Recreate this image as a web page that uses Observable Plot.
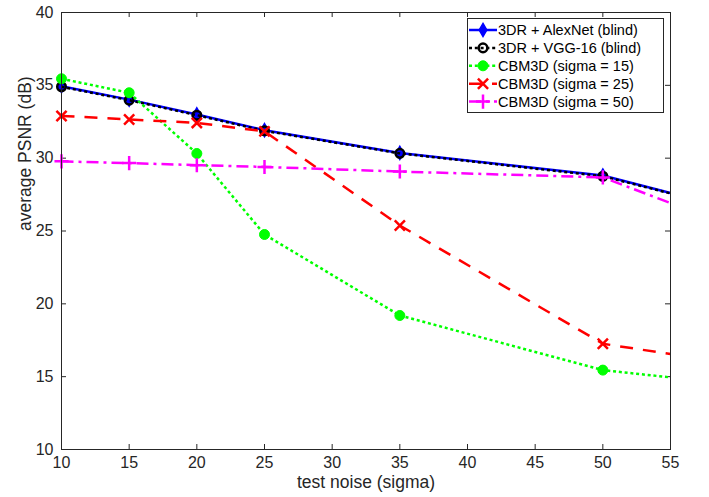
<!DOCTYPE html>
<html>
<head>
<meta charset="utf-8">
<script src="https://cdn.jsdelivr.net/npm/d3@7"></script>
<script src="https://cdn.jsdelivr.net/npm/@observablehq/plot@0.6"></script>
<style>
  body { margin: 0; background: #fff; }
  #chart { width: 709px; height: 497px; }
</style>
</head>
<body>
<div id="chart"></div>
<script>
// Test noise levels (sigma) and average PSNR (dB) per method
const sigma = [10, 15, 20, 25, 35, 50, 55];
const alexnetBlind = [34.94, 34.02, 33.00, 31.92, 30.36, 28.81, 27.61];
const vggBlind = [34.90, 33.98, 32.95, 31.88, 30.33, 28.76, 27.58];
const cbm3d15 = [35.45, 34.49, 30.32, 24.76, 19.20, 15.45, 14.95];
const cbm3d25 = [32.90, 32.66, 32.42, 31.84, 25.38, 17.26, 16.55];
const cbm3d50 = [29.78, 29.66, 29.52, 29.40, 29.08, 28.68, 26.92];

const seriesNames = [
  "3DR + AlexNet (blind)",
  "3DR + VGG-16 (blind)",
  "CBM3D (sigma = 15)",
  "CBM3D (sigma = 25)",
  "CBM3D (sigma = 50)"
];
const seriesValues = [alexnetBlind, vggBlind, cbm3d15, cbm3d25, cbm3d50];

const xTicks = [10, 15, 20, 25, 30, 35, 40, 45, 50, 55];
const yTicks = [10, 15, 20, 25, 30, 35, 40];
const xLabel = "test noise (sigma)";
const yLabel = "average PSNR (dB)";

// Drawing styles, one per series (same order as seriesNames)
const styles = [
  {stroke: "#0000ff", dash: null, symbol: "diamond", r: 4, fill: "#0000ff", sw: 1.5},
  {stroke: "#000000", dash: "3,2.8", symbol: "circle", r: 4.3, fill: "none", sw: 2.5},
  {stroke: "#00ff00", dash: "3,2.8", symbol: "circle", r: 5, fill: "#00ff00", sw: 1},
  {stroke: "#ff0000", dash: "13,10", symbol: "times", r: 4.7, fill: "none", sw: 2.5},
  {stroke: "#ff00ff", dash: "12,5,3,5", symbol: "plus", r: 4.6, fill: "none", sw: 2.5}
];

const rows = seriesNames.flatMap((name, k) =>
  sigma.map((s, i) => ({series: name, sigma: s, psnr: seriesValues[k][i]}))
);

const W = 709, H = 497;
const mL = 61, mR = 39, mT = 12, mB = 48;
const plotW = W - mL - mR, plotH = H - mT - mB;
const ink = "#262626";
const font = "'Liberation Sans', Arial, Helvetica, sans-serif";

// Each series: its line, then its markers (markers only at the tested levels;
// the last segment runs on to the right edge of the axes)
const seriesMarks = seriesNames.flatMap((name, k) => {
  const st = styles[k];
  const data = rows.filter(d => d.series === name);
  return [
    Plot.line(data, {
      x: "sigma", y: "psnr", stroke: st.stroke, strokeWidth: 2.5,
      strokeDasharray: st.dash, strokeLinecap: "butt", strokeLinejoin: "miter"
    }),
    Plot.dot(data.filter(d => d.sigma < 55), {
      x: "sigma", y: "psnr", symbol: st.symbol, r: st.r,
      fill: st.fill, stroke: st.stroke, strokeWidth: st.sw
    })
  ];
});

const chart = Plot.plot({
  width: W, height: H,
  marginLeft: mL, marginRight: mR, marginTop: mT, marginBottom: mB,
  style: {fontFamily: font, color: ink, background: "#fff"},
  x: {domain: [10, 55]},
  y: {domain: [10, 40]},
  marks: [
    // inward ticks on all four sides
    Plot.ruleX(xTicks, {x: d => d, insetTop: plotH - 5, stroke: ink}),
    Plot.ruleX(xTicks, {x: d => d, insetBottom: plotH - 5, stroke: ink}),
    Plot.ruleY(yTicks, {y: d => d, insetRight: plotW - 5, stroke: ink}),
    Plot.ruleY(yTicks, {y: d => d, insetLeft: plotW - 5, stroke: ink}),
    Plot.axisX({ticks: xTicks, tickSize: 0, tickPadding: 7, fontSize: 16, label: null, color: ink}),
    Plot.axisY({ticks: yTicks, tickSize: 0, tickPadding: 8, fontSize: 16, label: null, color: ink}),
    ...seriesMarks,
    Plot.frame({stroke: ink, strokeWidth: 1}),
    Plot.text([xLabel], {text: d => d, frameAnchor: "bottom", dy: 38, fontSize: 17.5, fill: ink}),
    Plot.text([yLabel], {text: d => d, frameAnchor: "left", rotate: -90, dx: -36, fontSize: 17.5, fill: ink})
  ]
});

document.getElementById("chart").appendChild(chart);

// Legend box in the upper right corner of the axes
const svg = d3.select(chart);
const lg = svg.append("g")
  .attr("font-family", font).attr("font-size", 14.5).attr("text-anchor", "start");
lg.append("rect")
  .attr("x", 467.5).attr("y", 18.5).attr("width", 196).attr("height", 94)
  .attr("fill", "#fff").attr("stroke", ink).attr("stroke-width", 1);

const symbolTypes = {
  diamond: d3.symbolDiamond, circle: d3.symbolCircle,
  times: d3.symbolTimes, plus: d3.symbolPlus
};
seriesNames.forEach((name, k) => {
  const st = styles[k];
  const cy = 30 + k * 17.9;
  lg.append("line")
    .attr("x1", 469).attr("x2", 497).attr("y1", cy).attr("y2", cy)
    .attr("stroke", st.stroke).attr("stroke-width", 2.5)
    .attr("stroke-dasharray", st.dash);
  lg.append("path")
    .attr("transform", `translate(483,${cy})`)
    .attr("d", d3.symbol(symbolTypes[st.symbol], st.r * st.r * Math.PI)())
    .attr("fill", st.fill).attr("stroke", st.stroke).attr("stroke-width", st.sw);
  lg.append("text")
    .attr("x", 498).attr("y", cy).attr("dy", "0.35em")
    .attr("text-anchor", "start").attr("fill", "#000").text(name);
});
</script>
</body>
</html>
